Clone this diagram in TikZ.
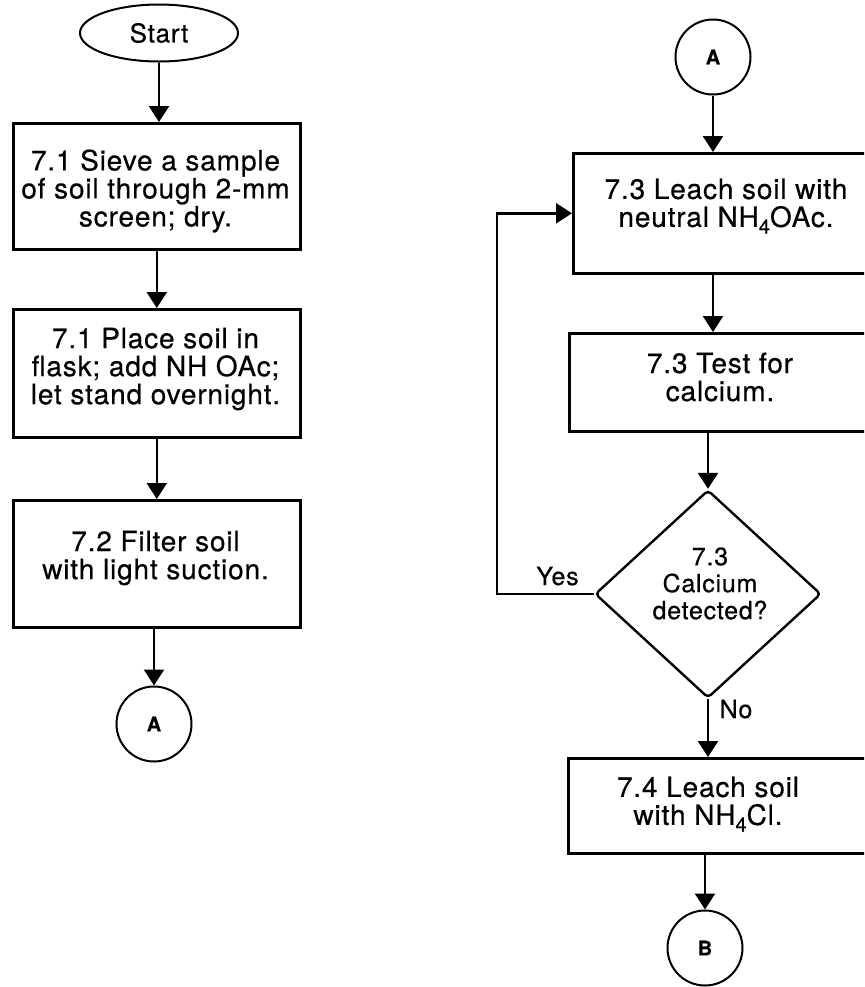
\documentclass[tikz,border=0pt]{standalone}
\usepackage{fontspec}
\setmainfont{TeX Gyre Heros}[LetterSpace=3, FakeBold=0.5]
\usetikzlibrary{shapes.geometric,arrows.meta}
\newcommand\mysub[1]{\raisebox{-0.45ex}{\fontsize{10}{10}\selectfont #1}}
\begin{document}
\begin{tikzpicture}[x=0.5pt,y=-0.5pt,
  box/.style={draw, rectangle, anchor=north west, inner sep=0pt, line width=1.3pt},
  txt/.style={align=center, inner sep=0pt, font=\fontsize{14}{14}\selectfont},
  dtxt/.style={align=center, inner sep=0pt, font=\fontsize{12.5}{13.5}\selectfont},
  lbl/.style={inner sep=0pt, anchor=base, font=\fontsize{12.5}{12.5}\selectfont},
  conn/.style={draw, circle, minimum size=37.5pt, inner sep=0pt, line width=1pt, font=\fontsize{10}{10}\selectfont\bfseries},
  arr/.style={line width=1.2pt, -{Triangle[length=8pt,width=10pt]}},
  line/.style={line width=1.1pt}]
\useasboundingbox (0,0) rectangle (864,987);
\clip (0,0) rectangle (864,987);
% left column
\node[draw, ellipse, minimum width=79pt, minimum height=28.5pt, inner sep=0pt, line width=1pt,
      font=\fontsize{13}{13}\selectfont] (start) at (159,33) {Start};
\node[box, minimum width=143.5pt, minimum height=63pt] (b1) at (12,122) {};
\node[txt] (t1) at (155.5,191) {7.1 Sieve a sample\\of soil through 2-mm\\screen; dry.};
\node[box, minimum width=143.5pt, minimum height=64pt] (b2) at (12,308) {};
\node[txt] (t2) at (155.5,369) {7.1 Place soil in\\flask; add NH OAc;\\let stand overnight.};
\node[box, minimum width=143.5pt, minimum height=63.5pt] (b3) at (12,499) {};
\node[txt] (t3) at (155.5,558) {7.2 Filter soil\\with light suction.};
\node[conn] (cA) at (154,724) {A};
% right column
\node[conn] (cA2) at (713,57) {A};
\node[box, minimum width=154pt, minimum height=60pt] (b4) at (572,152) {};
\node[txt] (t4) at (726,206) {7.3 Leach soil with\\neutral NH\mysub{4}OAc.};
\node[box, minimum width=154pt, minimum height=49pt] (b5) at (568,332) {};
\node[txt] (t5) at (720,377) {7.3 Test for\\calcium.};
\node[draw, diamond, minimum width=113pt, minimum height=104pt, inner sep=0pt, line width=1.2pt,
      rounded corners=2pt] (d) at (708,594) {};
\node[dtxt] (td) at (710,583.5) {7.3\\Calcium\\detected?};
\node[box, minimum width=156pt, minimum height=47.5pt] (b6) at (567,757) {};
\node[txt] (t6) at (708,804) {7.4 Leach soil\\with NH\mysub{4}Cl.};
\node[conn] (cB) at (705,948) {B};
\node[lbl] (yes) at (557.5,585) {Yes};
\node[lbl] (no) at (736,718) {No};
% connectors
\draw[arr] (start.south) -- (start.south |- b1.north);
\draw[arr] (b1.south) -- (b2.north);
\draw[arr] (b2.south) -- (b3.north);
\draw[arr] (cA |- b3.south) -- (cA.north);
\draw[arr] (cA2.south) -- (cA2.south |- b4.north);
\draw[arr] (cA2 |- b4.south) -- (cA2 |- b5.north);
\draw[arr] (d |- b5.south) -- (d.north);
\draw[arr] (d.south) -- (d.south |- b6.north);
\draw[arr] (cB |- b6.south) -- (cB.north);
\draw[arr] (d.west) -- ++(-97,0) |- (b4.west);
\end{tikzpicture}
\end{document}
